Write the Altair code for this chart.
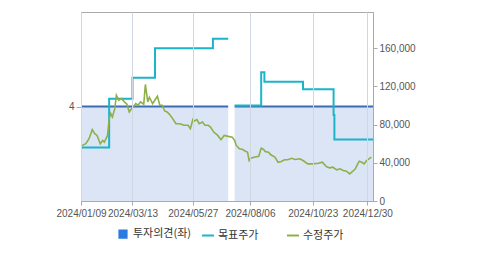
import altair as alt
import pandas as pd

# ---------------- data ----------------
# investment opinion (left axis), two segments
op_dates = ["2024-01-09", "2024-07-10", "2024-07-18", "2025-01-06"]
op_values = [4, 4, 4, 4]
op_seg = ["a", "a", "b", "b"]

# target price (step line), two segments
tg_dates = ["2024-01-09", "2024-02-13", "2024-03-13", "2024-04-10", "2024-06-21", "2024-07-10",
            "2024-07-18", "2024-08-20", "2024-08-24", "2024-10-11", "2024-11-18", "2024-11-19", "2025-01-06"]
tg_values = [56000, 107000, 129000, 160000, 170000, 170000,
             100000, 135000, 125000, 117000, 90000, 64500, 64500]
tg_seg = ["a", "a", "a", "a", "a", "a", "b", "b", "b", "b", "b", "b", "b"]

# adjusted price
adj_dates = ["2024-01-09", "2024-01-15", "2024-01-19", "2024-01-23", "2024-01-26", "2024-01-29",
             "2024-02-02", "2024-02-05", "2024-02-07", "2024-02-11", "2024-02-13", "2024-02-15",
             "2024-02-17", "2024-02-20", "2024-02-22", "2024-02-25", "2024-02-28", "2024-03-03",
             "2024-03-06", "2024-03-09", "2024-03-12", "2024-03-14", "2024-03-17", "2024-03-20",
             "2024-03-23", "2024-03-27", "2024-03-29", "2024-04-01", "2024-04-03", "2024-04-07",
             "2024-04-13", "2024-04-16", "2024-04-19", "2024-04-22", "2024-04-25", "2024-04-28",
             "2024-05-02", "2024-05-06", "2024-05-11", "2024-05-16", "2024-05-21", "2024-05-24",
             "2024-05-27", "2024-05-29", "2024-06-01", "2024-06-04", "2024-06-08", "2024-06-11",
             "2024-06-15", "2024-06-18", "2024-06-22", "2024-06-27", "2024-07-01", "2024-07-05",
             "2024-07-10", "2024-07-15", "2024-07-18", "2024-07-20", "2024-07-24", "2024-07-28",
             "2024-08-01", "2024-08-03", "2024-08-05", "2024-08-07", "2024-08-11", "2024-08-17",
             "2024-08-20", "2024-08-23", "2024-08-25", "2024-08-29", "2024-09-01", "2024-09-06",
             "2024-09-10", "2024-09-14", "2024-09-18", "2024-09-22", "2024-09-27", "2024-10-01",
             "2024-10-07", "2024-10-11", "2024-10-17", "2024-10-23", "2024-10-30", "2024-11-04",
             "2024-11-09", "2024-11-13", "2024-11-17", "2024-11-22", "2024-11-26", "2024-11-30",
             "2024-12-04", "2024-12-08", "2024-12-12", "2024-12-15", "2024-12-18", "2024-12-20",
             "2024-12-23", "2024-12-26", "2024-12-29", "2025-01-01", "2025-01-04"]
adj_values = [57500, 60000, 65300, 74700, 70500, 68700,
              60000, 63500, 61700, 68700, 86300, 91600,
              88000, 96800, 110800, 105600, 107400, 103800,
              101400, 93300, 96800, 98500, 102100, 100300,
              103800, 101400, 122100, 103800, 108700, 102100,
              109800, 100300, 100300, 94300, 93300, 90800,
              86300, 81000, 81000, 79300, 79300, 75800,
              85300, 83800, 85300, 81000, 82700, 79300,
              79300, 77500, 72200, 68700, 64200, 68700,
              67700, 66900, 63500, 58200, 54700, 54000,
              51900, 51200, 42400, 44800, 45900, 46900,
              55400, 54000, 51900, 51200, 48400, 45900,
              40600, 41400, 43200, 43200, 44800, 43500,
              44200, 42400, 38900, 38900, 39600, 40600,
              36100, 34700, 35400, 32600, 33700, 31900,
              31200, 28400, 31200, 33700, 38900, 41700,
              40600, 38900, 42400, 44200, 45900]

legend_names = ["투자의견(좌)", "목표주가", "수정주가"]
tick_dates = [(2024, 1, 9), (2024, 3, 13), (2024, 5, 27), (2024, 8, 6), (2024, 10, 23), (2024, 12, 30)]
price_ticks = [0, 40000, 80000, 120000, 160000]

# ---------------- styling ----------------
FILL = "#dbe5f6"
BLUE = "#3a6db3"
LEG_BLUE = "#2b7be0"
CYAN = "#1bb4c9"
GREEN = "#8db04a"
AXIS_GRAY = "#aaaaaa"
LABEL = "#555555"
NUM_FONT = "Liberation Sans"
KR_FONT = "Noto Sans CJK KR"

op_df = pd.DataFrame({"date": op_dates, "opinion": op_values, "seg": op_seg})
tg_df = pd.DataFrame({"date": tg_dates, "price": tg_values, "seg": tg_seg})
adj_df = pd.DataFrame({"date": adj_dates, "price": adj_values})
leg_df = pd.DataFrame({"date": ["2023-06-01"] * 3, "price": [50000] * 3, "series": legend_names})

x_enc = alt.X(
    "date:T",
    title=None,
    scale=alt.Scale(type="utc", domain=[alt.DateTime(year=2024, month=1, date=9, utc=True),
                                        alt.DateTime(year=2025, month=1, date=6, utc=True)]),
    axis=alt.Axis(
        values=[alt.DateTime(year=y, month=m, date=d, utc=True) for y, m, d in tick_dates],
        format="%Y/%m/%d", grid=True, gridColor="#cfd7e3", domainColor=AXIS_GRAY,
        tickColor=AXIS_GRAY, tickSize=4, labelPadding=3, labelFont=NUM_FONT, labelFontSize=10,
        labelColor=LABEL, labelOverlap=False, labelFlush=False, zindex=1,
    ),
)

price_scale = alt.Scale(domain=[0, 198000], nice=False, zero=True)
price_axis = alt.Axis(orient="right", values=price_ticks, format=",d", grid=False,
                      domainColor=AXIS_GRAY, tickColor=AXIS_GRAY, tickSize=4, labelPadding=2,
                      labelFont=NUM_FONT, labelFontSize=10, labelColor=LABEL)
y_price = alt.Y("price:Q", title=None, scale=price_scale, axis=price_axis)

opinion = alt.Chart(op_df).mark_area(
    color=FILL, opacity=1, fillOpacity=1, line={"color": BLUE, "strokeWidth": 2, "opacity": 1}
).encode(
    x=x_enc,
    y=alt.Y("opinion:Q", title=None, stack=None, scale=alt.Scale(domain=[0, 8], nice=False),
            axis=alt.Axis(orient="left", values=[4], grid=False, domainColor=AXIS_GRAY,
                          tickColor=AXIS_GRAY, tickSize=5, labelPadding=2, labelFont=NUM_FONT,
                          labelFontSize=10, labelColor=LABEL)),
    detail="seg:N",
)

target = alt.Chart(tg_df).mark_line(interpolate="step-after", color=CYAN, strokeWidth=2).encode(
    x=x_enc, y=y_price, detail="seg:N"
)

adjusted = alt.Chart(adj_df).mark_line(color=GREEN, strokeWidth=1.6).encode(
    x=x_enc, y=y_price
)

square_path = "M-0.6,-0.6L0.6,-0.6L0.6,0.6L-0.6,0.6Z"
leg = alt.Legend(
    title=None, orient="none", legendX=35, legendY=215, direction="horizontal", columns=3,
    gridAlign="all", columnPadding=6, padding=0, symbolSize=144, symbolStrokeWidth=2,
    symbolOpacity=1, labelFont=KR_FONT, labelFontSize=11, labelColor="#333333", labelOffset=3,
)
legend_layer = alt.Chart(leg_df).mark_point(clip=True, filled=True, opacity=1).encode(
    x=x_enc, y=y_price,
    fill=alt.Fill("series:N", scale=alt.Scale(domain=legend_names, range=[LEG_BLUE, CYAN, GREEN]), legend=leg),
    stroke=alt.Stroke("series:N", scale=alt.Scale(domain=legend_names, range=[LEG_BLUE, CYAN, GREEN]), legend=leg),
    shape=alt.Shape("series:N", scale=alt.Scale(domain=legend_names, range=[square_path, "stroke", "stroke"]), legend=leg),
)

prices = alt.layer(target, adjusted, legend_layer)

chart = alt.layer(opinion, prices).resolve_scale(y="independent").properties(
    width=292, height=189,
    padding={"left": 81, "top": 12, "right": 106, "bottom": 54},
    autosize=alt.AutoSizeParams(type="none"),
).configure_view(stroke=AXIS_GRAY, strokeWidth=1)

chart.save("out.html", embed_options={"renderer": "svg", "actions": False})
